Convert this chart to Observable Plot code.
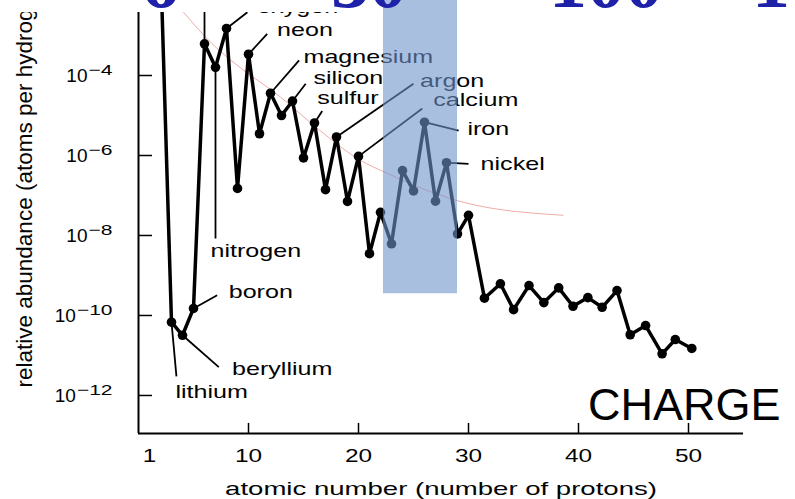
<!DOCTYPE html>
<html>
<head>
<meta charset="utf-8">
<script src="https://cdn.jsdelivr.net/npm/d3@7"></script>
<script src="https://cdn.jsdelivr.net/npm/@observablehq/plot@0.6"></script>
<style>
  body { margin: 0; background: #fff; }
  #wrap { position: relative; width: 795px; height: 499px; overflow: hidden; font-family: "Liberation Sans", Arial, sans-serif; }
  #chart { position: absolute; left: 0; top: 0; }
  .cover { position: absolute; top: 0; height: 12px; background: #fff; }
  #banner { position: absolute; left: 0; top: 0; width: 795px; height: 11px; overflow: hidden; }
  #banner span { position: absolute; top: -57px; font-family: "Liberation Serif", "DejaVu Serif", serif; font-weight: bold; font-size: 76px; line-height: 1; color: #1f22a8; white-space: pre; }
  #charge { position: absolute; left: 588px; top: 382px; font-size: 45px; line-height: 1; color: #000; font-family: "Liberation Sans", Arial, sans-serif; }
</style>
</head>
<body>
<div id="wrap">
  <div id="chart"></div>
  <div class="cover" style="left:0;width:383px"></div>
  <div class="cover" style="left:457px;width:338px"></div>
  <div id="banner"></div>
  <div id="charge">CHARGE</div>
</div>
<script>
// ---- data ----
// atomic numbers (beyond zinc the plotted points are read off the picture)
const atomicNumber = [1, 2, 3, 4, 5, 6, 7, 8, 9, 10, 11, 12, 13, 14, 15, 16, 17, 18, 19, 20,
  21, 22, 23, 24, 25, 26, 27, 28, 29, 30,
  31.45, 32.9, 34.1, 35.5, 36.85, 38.2, 39.5, 40.85, 42.15, 43.5, 44.7, 46.1, 47.6, 48.8, 50.3];
// relative abundance (atoms per hydrogen atom)
const abundance = [1, 7.9e-2, 6.8e-11, 3.2e-11, 1.5e-10, 6.2e-4, 1.6e-4, 1.5e-3, 1.5e-7, 3.4e-4,
  3.5e-6, 3.6e-5, 1.0e-5, 2.3e-5, 8.7e-7, 6.5e-6, 1.4e-7, 2.9e-6, 7.1e-8, 9.5e-7,
  3.5e-9, 3.8e-8, 6.2e-9, 4.2e-7, 1.3e-7, 6.8e-6, 7.2e-8, 6.6e-7, 1.1e-8, 3.2e-8,
  2.7e-10, 6.2e-10, 1.4e-10, 5.6e-10, 2.1e-10, 4.9e-10, 1.7e-10, 2.8e-10, 1.6e-10, 4.2e-10,
  3.3e-11, 5.6e-11, 1.1e-11, 2.5e-11, 1.5e-11];

// faint red trend curve
const trendZ = [4.1, 6.7, 8.4, 12.9, 16.5, 20.2, 22.6, 29.5, 38.6];
const trendA = [3.8e-3, 6.2e-4, 2.4e-4, 2.9e-5, 4.2e-6, 7.5e-7, 3.6e-7, 6.8e-8, 3.2e-8];

// highlighted iron-peak band
const bandZ = [22.27, 29.0];
const bandA = [3.5e-10, 7.5e-3];

// element labels: name, element Z, leader end (Z, abundance), label anchor (Z, abundance)
const labelNames  = ["carbon", "oxygen", "neon", "magnesium", "silicon", "sulfur", "argon", "calcium", "iron", "nickel", "nitrogen", "boron", "beryllium", "lithium"];
const labelElemZ  = [6, 8, 10, 12, 14, 16, 18, 20, 26, 28, 7, 5, 4, 3];
const leaderEndZ  = [6.0, 9.9, 11.7, 14.6, 15.2, 16.7, 25.0, 25.8, 29.1, 30.0, 7.0, 7.15, 7.3, 3.45];
const leaderEndA  = [7.5e-3, 3.8e-3, 1.1e-3, 2.4e-4, 6.2e-5, 1.3e-5, 6.2e-5, 1.5e-5, 4.2e-6, 6.2e-7, 8.4e-9, 3.2e-10, 5.1e-12, 3.0e-12];
const labelZ      = [null, 10.8, 12.6, 15.0, 15.9, 16.25, 25.6, 26.8, 29.9, 31.1, 6.55, 8.2, 8.5, 3.36];
const labelA      = [null, 5.3e-3, 1.4e-3, 3.0e-4, 8.9e-5, 2.7e-5, 7.5e-5, 2.4e-5, 4.7e-6, 6.3e-7, 4.2e-9, 3.8e-10, 4.7e-12, 1.26e-12];

// axes
const xTickValues = [10, 20, 30, 40, 50];
const xTickLabels = [1, 10, 20, 30, 40, 50];
const yExponents = [-4, -6, -8, -10, -12];
const xDomain = [0, 55];
const yDomain = [1.12e-13, 3.76e-3];
const xAxisLabel = "atomic number (number of protons)";
const yAxisLabel = "relative abundance (atoms per hydrogen atom)";
const bannerTexts = ["6", "30", "100", "1"];
const bannerLeft = [141, 331, 549, 752];

// ---- build tables ----
const points = atomicNumber.map((z, i) => ({z, a: abundance[i]}));
const trend = trendZ.map((z, i) => ({z, a: trendA[i]}));
const lookup = new Map(points.map(d => [d.z, d.a]));
const notes = labelNames.map((name, i) => ({
  name,
  x1: labelElemZ[i], y1: lookup.get(labelElemZ[i]),
  x2: leaderEndZ[i], y2: leaderEndA[i],
  tx: labelZ[i], ty: labelA[i]
}));
const labelled = notes.filter(d => d.tx != null);
const yTicks = yExponents.map(e => ({v: Math.pow(10, e), e}));
const yMin = yDomain[0];

// near-black marker colours so the texts can be found after rendering
const C_YTICK = "#010101", C_LABEL = "#020202", C_XTICK = "#030303", C_XLAB = "#040404", C_YLAB = "#050505";
const BAND_FILL = "#6f95cc";

const chart = Plot.plot({
  width: 795,
  height: 499,
  marginLeft: 138,
  marginRight: 52,
  marginTop: 12,
  marginBottom: 66,
  style: {background: "transparent", overflow: "hidden", fontFamily: "'Liberation Sans', Arial, sans-serif", color: "#000"},
  x: {domain: xDomain, axis: null},
  y: {type: "log", domain: yDomain, axis: null},
  marks: [
    Plot.line(trend, {x: "z", y: "a", stroke: "#d9463f", strokeOpacity: 0.45, strokeWidth: 1, curve: "monotone-x"}),
    Plot.ruleX([xDomain[0]], {stroke: "#000", strokeWidth: 2}),
    Plot.ruleY([yMin], {stroke: "#000", strokeWidth: 2}),
    Plot.ruleY(yTicks, {y: "v", x1: 0, x2: 1.27, stroke: "#000", strokeWidth: 1.5}),
    Plot.ruleX(xTickValues, {x: d => d, y1: yMin, y2: 2.0e-13, stroke: "#000", strokeWidth: 1.5}),
    Plot.line(points, {x: "z", y: "a", stroke: "#000", strokeWidth: 3.5, strokeLinejoin: "round"}),
    Plot.dot(points, {x: "z", y: "a", r: 4.8, fill: "#000", stroke: "none"}),
    Plot.link(notes, {x1: "x1", y1: "y1", x2: "x2", y2: "y2", stroke: "#000", strokeWidth: 1.8}),
    Plot.text(labelled, {x: "tx", y: "ty", text: "name", textAnchor: "start", lineAnchor: "middle", fontSize: 19, fill: C_LABEL}),
    Plot.rect([0], {x1: bandZ[0], x2: bandZ[1], y1: bandA[0], y2: bandA[1], fill: BAND_FILL, fillOpacity: 0.6}),
    Plot.text(yTicks, {x: 0, y: "v", text: d => "10^\u2212" + Math.abs(d.e), textAnchor: "end", dx: -26, fontSize: 19, fill: C_YTICK}),
    Plot.text(xTickLabels, {x: d => d, y: yMin, text: d => String(d), dy: 15, lineAnchor: "top", fontSize: 19, fill: C_XTICK}),
    Plot.text([xAxisLabel], {frameAnchor: "bottom", dy: 48, lineAnchor: "top", fontSize: 19, fill: C_XLAB}),
    Plot.text([yAxisLabel], {frameAnchor: "bottom-left", rotate: -90, textAnchor: "start", lineAnchor: "middle", dx: -114, dy: -46, fontSize: 22.5, fill: C_YLAB})
  ]
});

document.getElementById("chart").appendChild(chart);

// banner (large slide text, mostly cropped)
const banner = document.getElementById("banner");
bannerTexts.forEach((t, i) => {
  const s = document.createElement("span");
  s.textContent = t;
  s.style.left = bannerLeft[i] + "px";
  banner.appendChild(s);
});

// ---- post-processing ----
const svg = d3.select(chart);
function textsOf(rgb) {
  return svg.selectAll("text").filter(function() { return getComputedStyle(this).fill === rgb; });
}
function stretch(sel, k) {
  sel.each(function() {
    const w = this.getComputedTextLength();
    if (w > 0) {
      this.setAttribute("textLength", (w * k).toFixed(1));
      this.setAttribute("lengthAdjust", "spacingAndGlyphs");
    }
  });
}
// superscript exponents on y tick labels
const yTickTexts = textsOf("rgb(1, 1, 1)");
yTickTexts.each(function() {
  const t = d3.select(this);
  const parts = t.text().split("^");
  if (parts.length < 2) return;
  t.text(null);
  t.append("tspan").text(parts[0]);
  t.append("tspan").attr("class", "sup").attr("dy", "-0.45em").attr("dx", 1).attr("font-size", 15).text(parts[1]);
});
stretch(yTickTexts.selectAll("tspan.sup"), 1.4);
stretch(textsOf("rgb(2, 2, 2)"), 1.32);
stretch(textsOf("rgb(3, 3, 3)"), 1.28);
stretch(textsOf("rgb(4, 4, 4)"), 1.45);
</script>
</body>
</html>
